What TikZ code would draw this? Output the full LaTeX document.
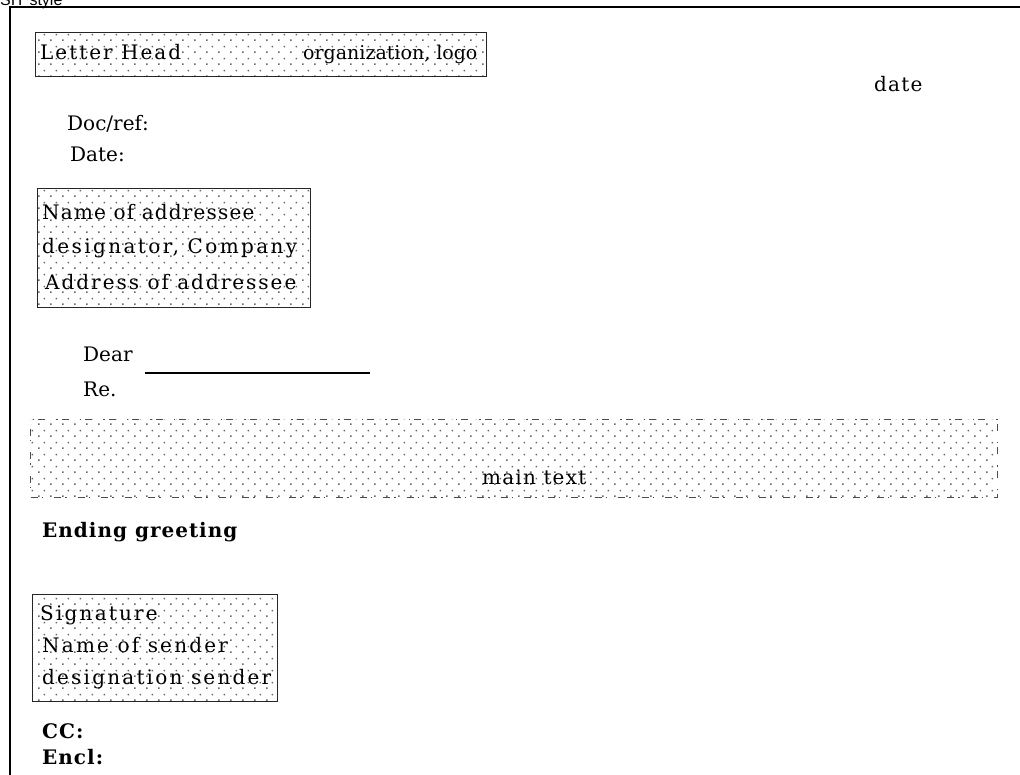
\documentclass[tikz,border=0pt]{standalone}
\usepackage{fontspec}
\setmainfont{DejaVu Serif}
\newfontfamily\titlefont{Liberation Sans}
\usetikzlibrary{patterns}

% staggered grid of small grey dots used as the box fill
\pgfdeclarepatternformonly{sitdots}{\pgfqpoint{0pt}{0pt}}{\pgfqpoint{12pt}{12pt}}{\pgfqpoint{12pt}{12pt}}{%
  \pgfpathrectangle{\pgfqpoint{2.2pt}{2.2pt}}{\pgfqpoint{1.6pt}{1.6pt}}%
  \pgfpathrectangle{\pgfqpoint{8.2pt}{8.2pt}}{\pgfqpoint{1.6pt}{1.6pt}}%
  \pgfusepath{fill}}

\tikzset{
  txt/.style={font=\fontsize{20}{22}\selectfont, anchor=base west, inner sep=0pt},
  spaced/.style={font=\fontsize{20}{22}\selectfont\addfontfeature{LetterSpace=#1}},
  spaced/.default=6,
  heavy/.style={font=\fontsize{20}{22}\selectfont\bfseries\addfontfeature{LetterSpace=5}},
  dotbox/.style={draw=black!85, line width=1.3pt, pattern=sitdots, pattern color=black!60,
    anchor=north west, inner sep=0pt},
  dashbox/.style={draw=black!70, line width=1.2pt, pattern=sitdots, pattern color=black!60,
    dash pattern=on 7pt off 4pt on 1.5pt off 11pt, anchor=north west, inner sep=0pt},
}

\begin{document}
\begin{tikzpicture}[x=1pt, y=-1pt]
\useasboundingbox (0,0) rectangle (1020,775);
\clip (0,0) rectangle (1020,775);

% caption, cut by the top edge
\node[font=\titlefont\fontsize{16}{18}\selectfont, anchor=base west, inner sep=0pt] (title) at (0,6) {SIT style};

% page frame
\coordinate (fr1) at (1022,7);
\coordinate (fr2) at (10,7);
\coordinate (fr3) at (10,777);
\draw[line width=1.5pt] (fr1) -- (fr2) -- (fr3);

% letter head
\node[dotbox, minimum width=451pt, minimum height=44pt] (head) at (35,32) {};
\node[txt, spaced=10] (headL) at (40,60) {Letter Head};
\node[txt, font=\fontsize{19}{22}\selectfont] (headR) at (303,60) {organization, logo};

\node[txt, spaced] (date) at (874,92) {date};
\node[txt] (docref) at (67,131) {Doc/ref:};
\node[txt] (dateL) at (70,162) {Date:};

% addressee block
\node[dotbox, minimum width=273pt, minimum height=119pt] (addr) at (37,188) {};
\node[txt, spaced] (a1) at (42,220) {Name of addressee};
\node[txt, spaced=12] (a2) at (42,254) {designator, Company};
\node[txt, spaced=10] (a3) at (45,290) {Address of addressee};

% salutation
\node[txt] (dear) at (83,362) {Dear};
\coordinate (dl1) at (145,373);
\coordinate (dl2) at (370,373);
\draw[line width=1.2pt] (dl1) -- (dl2);
\node[txt] (re) at (83,396) {Re.};

% body
\node[dashbox, minimum width=967pt, minimum height=78pt] (body) at (30,419) {};
\node[txt, spaced] (main) at (482,484) {main text};

\node[txt, heavy] (ending) at (42,537) {Ending greeting};

% signature block
\node[dotbox, minimum width=245pt, minimum height=107pt] (sig) at (32,594) {};
\node[txt, spaced=11] (s1) at (40,620) {Signature};
\node[txt, spaced=11] (s2) at (42,652) {Name of sender};
\node[txt, spaced=11] (s3) at (42,684) {designation sender};

\node[txt, heavy] (cc) at (42,738) {CC:};
\node[txt, heavy] (encl) at (42,764) {Encl:};
\end{tikzpicture}
\end{document}
